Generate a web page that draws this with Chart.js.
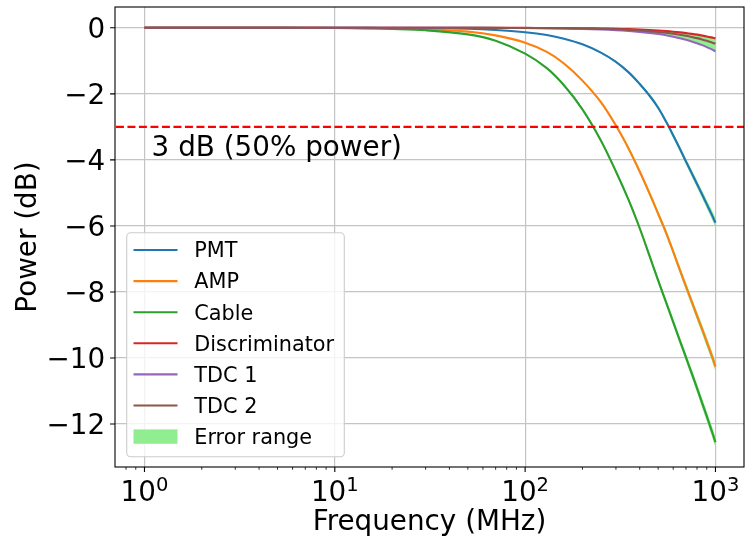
<!DOCTYPE html>
<html>
<head>
<meta charset="utf-8">
<script src="https://cdn.jsdelivr.net/npm/chart.js@4/dist/chart.umd.min.js"></script>
<style>
  body { margin: 0; background: #fff; }
  #wrap { width: 745px; height: 545px; }
</style>
</head>
<body>
<div id="wrap"><canvas id="myChart" width="745" height="545"></canvas></div>
<script>
// frequency samples (MHz) and power (dB)
const FREQ_MHZ = [1, 2, 3, 5, 7, 10, 15, 20, 30, 50, 70, 100, 130, 160, 200, 250, 300, 350, 400, 450, 500, 550, 600, 650, 700, 750, 800, 850, 900, 950, 1000];
const PMT_DB = [0, 0, 0, 0, 0, -0.001, -0.003, -0.005, -0.012, -0.03, -0.065, -0.135, -0.22, -0.33, -0.50, -0.75, -1.03, -1.35, -1.70, -2.05, -2.42, -2.84, -3.26, -3.66, -4.05, -4.40, -4.73, -5.04, -5.34, -5.62, -5.90];
const AMP_DB = [0, 0, 0, -0.001, -0.002, -0.005, -0.011, -0.019, -0.042, -0.116, -0.23, -0.45, -0.73, -1.08, -1.60, -2.25, -2.96, -3.66, -4.35, -5.01, -5.63, -6.20, -6.78, -7.33, -7.83, -8.29, -8.72, -9.12, -9.51, -9.88, -10.26];
const CABLE_DB = [0, 0, -0.001, -0.002, -0.004, -0.008, -0.019, -0.033, -0.074, -0.20, -0.39, -0.78, -1.22, -1.74, -2.47, -3.41, -4.35, -5.22, -6.07, -6.90, -7.65, -8.31, -8.91, -9.47, -9.98, -10.46, -10.91, -11.35, -11.76, -12.16, -12.55];
const DISC_DB = [0, 0, 0, 0, 0, 0, 0, 0, 0, -0.001, -0.002, -0.003, -0.006, -0.009, -0.013, -0.021, -0.030, -0.041, -0.053, -0.067, -0.082, -0.099, -0.118, -0.138, -0.160, -0.183, -0.207, -0.234, -0.261, -0.290, -0.32];
const TDC1_DB = [0, 0, 0, 0, 0, 0, 0, 0, -0.001, -0.002, -0.004, -0.008, -0.013, -0.020, -0.031, -0.048, -0.069, -0.094, -0.122, -0.154, -0.189, -0.228, -0.270, -0.315, -0.363, -0.414, -0.467, -0.524, -0.585, -0.647, -0.71];
const TDC2_DB = [0, 0, 0, 0, 0, 0, 0, 0, 0, -0.001, -0.003, -0.005, -0.009, -0.013, -0.020, -0.032, -0.045, -0.062, -0.080, -0.102, -0.125, -0.151, -0.179, -0.209, -0.242, -0.277, -0.313, -0.352, -0.393, -0.436, -0.48];
// half width of the error band (dB)
const PMT_ERR = [0, 0, 0, 0, 0, 0, 0, 0, 0, 0, 0, 0.004, 0.007, 0.01, 0.014, 0.02, 0.028, 0.036, 0.044, 0.052, 0.06, 0.068, 0.076, 0.084, 0.092, 0.10, 0.108, 0.116, 0.124, 0.132, 0.14];
const AMP_ERR = [0, 0, 0, 0, 0, 0, 0, 0, 0, 0.002, 0.004, 0.01, 0.015, 0.02, 0.03, 0.04, 0.05, 0.06, 0.07, 0.078, 0.086, 0.094, 0.10, 0.107, 0.114, 0.12, 0.127, 0.134, 0.14, 0.145, 0.15];
const CABLE_ERR = [0, 0, 0, 0, 0, 0, 0, 0, 0, 0.003, 0.006, 0.015, 0.02, 0.027, 0.035, 0.045, 0.055, 0.065, 0.075, 0.083, 0.09, 0.097, 0.104, 0.11, 0.117, 0.124, 0.131, 0.138, 0.145, 0.152, 0.16];

const SERIES_NAMES = ["PMT", "AMP", "Cable", "Discriminator", "TDC 1", "TDC 2"];
const ERROR_NAME = "Error range";
const THRESHOLD_DB = -3;
const THRESHOLD_TEXT = "3 dB (50% power)";
const X_TITLE = "Frequency (MHz)";
const Y_TITLE = "Power (dB)";
const X_MIN = 0.708, X_MAX = 1412.5;
const Y_MIN = -13.3, Y_MAX = 0.63;
const X_DECADES = [1, 10, 100, 1000];
const X_MINOR = [0.8, 0.9, 2, 3, 4, 5, 6, 7, 8, 9, 20, 30, 40, 50, 60, 70, 80, 90, 200, 300, 400, 500, 600, 700, 800, 900];
const Y_TICKS = [0, -2, -4, -6, -8, -10, -12];

const COLORS = ["#1f77b4", "#ff7f0e", "#2ca02c", "#d62728", "#9467bd", "#8c564b"];
const BAND_COLOR = "#90ee90";
const FONT = "'DejaVu Sans', 'Liberation Sans', sans-serif";

function pts(vals, off, sign) {
  return FREQ_MHZ.map((f, i) => ({ x: f, y: vals[i] + (off ? sign * off[i] : 0) }));
}

const seriesVals = [PMT_DB, AMP_DB, CABLE_DB, DISC_DB, TDC1_DB, TDC2_DB];
const datasets = [];
const SMOOTH = 0.35;

// error bands (upper fills down to the next dataset)
const bands = [
  [pts(PMT_DB, PMT_ERR, 1), pts(PMT_DB, PMT_ERR, -1)],
  [pts(AMP_DB, AMP_ERR, 1), pts(AMP_DB, AMP_ERR, -1)],
  [pts(CABLE_DB, CABLE_ERR, 1), pts(CABLE_DB, CABLE_ERR, -1)],
  [pts(DISC_DB), pts(TDC1_DB)],
];
bands.forEach((b, k) => {
  datasets.push({
    label: "band" + k, data: b[0], fill: "+1", backgroundColor: BAND_COLOR,
    borderWidth: 0, pointRadius: 0, tension: SMOOTH, order: 40 - k * 2,
  });
  datasets.push({
    label: "band" + k + "lo", data: b[1], fill: false,
    borderWidth: 0, pointRadius: 0, tension: SMOOTH, order: 39 - k * 2,
  });
});

// the curves, later ones on top like matplotlib
seriesVals.forEach((vals, j) => {
  datasets.push({
    label: SERIES_NAMES[j], data: pts(vals), borderColor: COLORS[j], backgroundColor: COLORS[j],
    borderWidth: 2.1, pointRadius: 0, fill: false, tension: SMOOTH, order: 20 - j,
  });
});

// -3 dB reference line
datasets.push({
  label: "threshold", data: [{ x: X_MIN, y: THRESHOLD_DB }, { x: X_MAX, y: THRESHOLD_DB }],
  borderColor: "#ff0000", borderWidth: 2.1, borderDash: [8, 3.5], pointRadius: 0, fill: false, order: 0,
});

const mplPlugin = {
  id: "mplLook",
  beforeDraw: (chart) => {
    const ctx = chart.ctx;
    ctx.save();
    ctx.fillStyle = "white";
    ctx.fillRect(0, 0, chart.width, chart.height);
    ctx.restore();
  },
  afterDraw: (chart) => {
    const ctx = chart.ctx;
    const a = chart.chartArea;
    const xs = chart.scales.x;
    const ys = chart.scales.y;
    ctx.save();

    // spines
    ctx.strokeStyle = "#000";
    ctx.lineWidth = 1.1;
    ctx.strokeRect(a.left, a.top, a.right - a.left, a.bottom - a.top);

    // tick marks
    ctx.beginPath();
    X_DECADES.forEach((v) => { const p = xs.getPixelForValue(v); ctx.moveTo(p, a.bottom); ctx.lineTo(p, a.bottom + 4.9); });
    Y_TICKS.forEach((v) => { const p = ys.getPixelForValue(v); ctx.moveTo(a.left, p); ctx.lineTo(a.left - 4.9, p); });
    ctx.stroke();
    ctx.lineWidth = 0.8;
    ctx.beginPath();
    X_MINOR.forEach((v) => {
      const p = xs.getPixelForValue(v);
      if (p < a.left || p > a.right) return;
      ctx.moveTo(p, a.bottom); ctx.lineTo(p, a.bottom + 2.8);
    });
    ctx.stroke();

    ctx.fillStyle = "#000";
    // y tick labels
    ctx.font = "27.8px " + FONT;
    ctx.textAlign = "right";
    ctx.textBaseline = "alphabetic";
    Y_TICKS.forEach((v) => {
      const p = ys.getPixelForValue(v);
      const t = v === 0 ? "0" : "\u2212" + Math.abs(v);
      ctx.fillText(t, a.left - 9.8, p + 10);
    });

    // x tick labels 10^n
    ctx.textAlign = "left";
    X_DECADES.forEach((v) => {
      const p = xs.getPixelForValue(v);
      const e = String(Math.round(Math.log10(v)));
      ctx.font = "27.8px " + FONT;
      const wm = ctx.measureText("10").width;
      ctx.font = "19.5px " + FONT;
      const we = ctx.measureText(e).width;
      const x0 = p - (wm + we) / 2;
      ctx.font = "27.8px " + FONT;
      ctx.fillText("10", x0, a.bottom + 34);
      ctx.font = "19.5px " + FONT;
      ctx.fillText(e, x0 + wm, a.bottom + 23.5);
    });

    // axis titles
    ctx.font = "27.8px " + FONT;
    ctx.textAlign = "center";
    ctx.fillText(X_TITLE, (a.left + a.right) / 2, 530);
    ctx.save();
    ctx.translate(35.5, (a.top + a.bottom) / 2);
    ctx.rotate(-Math.PI / 2);
    ctx.fillText(Y_TITLE, 0, 0);
    ctx.restore();

    // threshold annotation
    ctx.textAlign = "left";
    ctx.fillText(THRESHOLD_TEXT, xs.getPixelForValue(1.09), ys.getPixelForValue(-3.88));

    // legend
    const lx = 126.7, ly = 232.7, lw = 217.6, lh = 224;
    ctx.beginPath();
    ctx.roundRect(lx, ly, lw, lh, 4);
    ctx.fillStyle = "rgba(255,255,255,0.8)";
    ctx.fill();
    ctx.strokeStyle = "#cccccc";
    ctx.lineWidth = 1.1;
    ctx.stroke();
    ctx.font = "20.8px " + FONT;
    ctx.textAlign = "left";
    const rowY0 = 250, rowH = 31.1;
    SERIES_NAMES.forEach((name, j) => {
      const y = rowY0 + j * rowH;
      ctx.strokeStyle = COLORS[j];
      ctx.lineWidth = 2.1;
      ctx.beginPath();
      ctx.moveTo(133.5, y);
      ctx.lineTo(177.5, y);
      ctx.stroke();
      ctx.fillStyle = "#000";
      ctx.fillText(name, 194.3, y + 7.3);
    });
    const ey = rowY0 + 6 * rowH;
    ctx.fillStyle = BAND_COLOR;
    ctx.fillRect(133.5, ey - 7.2, 44, 14.4);
    ctx.fillStyle = "#000";
    ctx.fillText(ERROR_NAME, 194.3, ey + 7.3);

    ctx.restore();
  },
};

const config = {
  type: "line",
  data: { datasets: datasets },
  plugins: [mplPlugin],
  options: {
    responsive: false,
    animation: false,
    devicePixelRatio: 1,
    layout: { padding: { top: 7, right: 1, left: 0, bottom: 0 } },
    plugins: { legend: { display: false }, tooltip: { enabled: false } },
    scales: {
      x: {
        type: "logarithmic", min: X_MIN, max: X_MAX,
        afterBuildTicks: (s) => { s.ticks = X_DECADES.map((v) => ({ value: v })); },
        afterFit: (s) => { s.height = 78; },
        ticks: { display: false },
        grid: { color: "#c4c4c4", lineWidth: 1.2, drawTicks: false },
        border: { display: false },
      },
      y: {
        type: "linear", min: Y_MIN, max: Y_MAX,
        afterBuildTicks: (s) => { s.ticks = Y_TICKS.map((v) => ({ value: v })); },
        afterFit: (s) => { s.width = 115; },
        ticks: { display: false },
        grid: { color: "#c4c4c4", lineWidth: 1.2, drawTicks: false },
        border: { display: false },
      },
    },
  },
};
myChart = new Chart(document.getElementById("myChart"), config);
</script>
</body>
</html>
